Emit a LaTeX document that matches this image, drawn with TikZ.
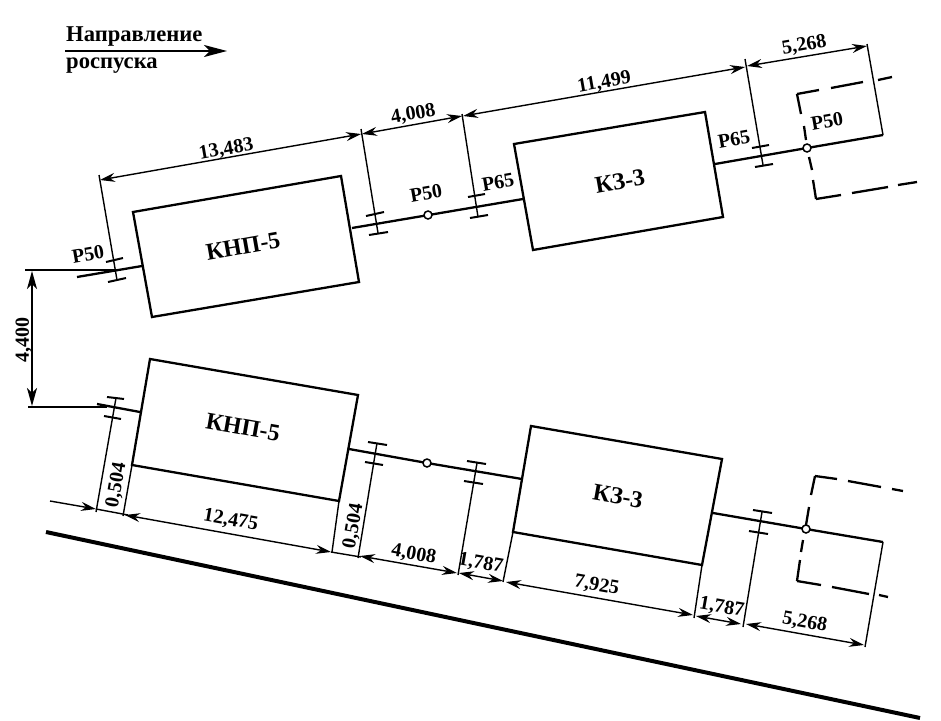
\documentclass[tikz,border=0pt]{standalone}
\usepackage{fontspec}
\setmainfont{Liberation Serif}
\usetikzlibrary{arrows.meta}
\tikzset{
  thin line/.style={line width=1.4pt},
  wide line/.style={line width=2.3pt},
  base line/.style={line width=4pt},
  tick line/.style={line width=2pt},
  dash part/.style={line width=2.3pt},
  dim head/.tip={Stealth[length=15pt,width=9pt,inset=5pt]},
  dim tip/.style={dim head-dim head, line width=1.4pt},
  dim end/.style={-dim head, line width=1.4pt},
  dim txt/.style={font=\bfseries\fontsize{20}{20}\selectfont, inner sep=0pt, text height=13.5pt, text depth=0pt},
  unit txt/.style={font=\bfseries\fontsize{24}{24}\selectfont, inner sep=0pt, text height=16pt, text depth=0pt},
  head txt/.style={font=\bfseries\fontsize{22.6}{23}\selectfont, inner sep=0pt, anchor=west},
  joint/.style={circle, draw, fill=white, line width=1.5pt, minimum size=8pt, inner sep=0pt},
}
\begin{document}
\begin{tikzpicture}[x=1pt,y=-1pt]
\useasboundingbox (0,0) rectangle (941,720);
\fill[white] (0,0) rectangle (941,720);

% heading
\node[head txt] (hA) at (66,37) {Направление};
\node[head txt] (hB) at (66,66) {роспуска};
\draw[-{Stealth[length=23pt,width=12pt,inset=6pt]}, line width=1.8pt] (65,51) -- (227,51);

% upper line: rails
\draw[wide line] (77,277) -- (142,266);
\draw[wide line] (352,228) -- (523,199);
\draw[wide line] (715,164) -- (807,148) -- (883,135);
\draw[thin line] (883,135) -- (867,44);

% upper boxes
\draw[wide line] (133,212) -- (341,176) -- (359,282) -- (152,317) -- cycle;
\draw[wide line] (514,144) -- (705,112) -- (723,217) -- (533,250) -- cycle;

% upper extension lines and ticks
\draw[thin line] (99,175) -- (117,280);
\draw[tick line] (106,262) -- (123,258);
\draw[tick line] (108,282) -- (126,278);
\draw[thin line] (361,129) -- (378,233);
\draw[tick line] (366,216) -- (384,212);
\draw[tick line] (369,235) -- (388,232);
\draw[thin line] (462,114) -- (478,217);
\draw[tick line] (468,197) -- (485,194);
\draw[tick line] (470,218) -- (488,215);
\draw[thin line] (745,59) -- (763,165);
\draw[tick line] (752,148) -- (769,145);
\draw[tick line] (755,167) -- (773,164);

% upper dimensions
\draw[dim tip] (100,180) -- (361,134);
\draw[dim tip] (362,134) -- (462,116);
\draw[dim tip] (463,116) -- (745,67);
\draw[dim tip] (747,66) -- (867,46);

% upper dashed outline
\draw[dash part] (797,94) -- (819,90);
\draw[dash part] (831,88) -- (863,82);
\draw[dash part] (878,80) -- (892,77);
\draw[dash part] (797,94) -- (801,114);
\draw[dash part] (804,126) -- (806,140);
\draw[dash part] (809,157) -- (812,170);
\draw[dash part] (813,180) -- (816,199);
\draw[dash part] (816,199) -- (841,195);
\draw[dash part] (852,193) -- (888,187);
\draw[dash part] (898,185) -- (917,182);

\node[joint] (j1) at (428,215) {};
\node[joint] (j2) at (807,148) {};

% spacing dimension 4,400
\draw[thin line] (25,270) -- (115,270);
\draw[thin line] (28,407) -- (107,407);
\draw[{Stealth[length=18pt,width=10pt,inset=5pt]}-{Stealth[length=18pt,width=10pt,inset=5pt]}, line width=1.4pt] (32,271) -- (32,406);

% lower rails
\draw[wide line] (97,404) -- (140,412);
\draw[wide line] (349,449) -- (427,463) -- (522,479);
\draw[wide line] (713,513) -- (806,529) -- (883,542);
\draw[thin line] (883,542) -- (865,647);

% lower boxes
\draw[wide line] (132,465) -- (150,359) -- (358,395) -- (339,501) -- cycle;
\draw[thin line] (132,465) -- (123,516);
\draw[thin line] (339,501) -- (332,552);
\draw[wide line] (513,532) -- (531,426) -- (722,459) -- (702,565) -- cycle;
\draw[thin line] (513,532) -- (503,582);
\draw[thin line] (702,565) -- (694,618);

% lower extension lines and ticks
\draw[thin line] (116,398) -- (96,512);
\draw[tick line] (107,397) -- (124,399);
\draw[tick line] (104,416) -- (121,419);
\draw[thin line] (377,443) -- (358,558);
\draw[tick line] (368,442) -- (387,445);
\draw[tick line] (365,462) -- (383,465);
\draw[thin line] (477,463) -- (458,575);
\draw[tick line] (467,461) -- (486,464);
\draw[tick line] (464,481) -- (483,484);
\draw[thin line] (762,512) -- (743,627);
\draw[tick line] (753,510) -- (772,513);
\draw[tick line] (749,531) -- (768,534);

% lower dimensions
\draw[dim end] (50,501) -- (96,509);
\draw[thin line] (96,509) -- (128,515);
\draw[dim tip] (125,515) -- (331,552);
\draw[thin line] (331,552) -- (361,557);
\draw[dim tip] (360,556) -- (457,573);
\draw[dim tip] (459,573) -- (503,581);
\draw[dim tip] (506,582) -- (693,615);
\draw[dim tip] (696,616) -- (741,624);
\draw[dim tip] (746,624) -- (864,645);

% lower dashed outline
\draw[dash part] (815,476) -- (837,479);
\draw[dash part] (848,481) -- (881,487);
\draw[dash part] (892,489) -- (903,491);
\draw[dash part] (815,476) -- (811,495);
\draw[dash part] (809,507) -- (806,525);
\draw[dash part] (803,540) -- (801,552);
\draw[dash part] (800,560) -- (797,581);
\draw[dash part] (797,581) -- (821,585);
\draw[dash part] (832,587) -- (869,594);
\draw[dash part] (879,595) -- (888,597);

\node[joint] (j3) at (427,463) {};
\node[joint] (j4) at (806,529) {};

% track
\draw[base line] (46,532) -- (920,718);

% labels: upper
\node[unit txt, rotate=10] (u1) at (243,246) {КНП-5};
\node[unit txt, rotate=10] (u2) at (620,181) {КЗ-3};
\node[dim txt, rotate=10] (t1) at (226,148) {13,483};
\node[dim txt, rotate=10] (t2) at (413,113) {4,008};
\node[dim txt, rotate=10] (t3) at (604,81) {11,499};
\node[dim txt, rotate=10] (t4) at (804,44) {5,268};
\node[dim txt, rotate=10] (r1) at (88,254) {Р50};
\node[dim txt, rotate=10] (r2) at (426,193) {Р50};
\node[dim txt, rotate=10] (r3) at (498,182) {Р65};
\node[dim txt, rotate=10] (r4) at (734,139) {Р65};
\node[dim txt, rotate=10] (r5) at (827,121) {Р50};
\node[dim txt, rotate=90] (s1) at (22,340) {4,400};

% labels: lower
\node[unit txt, rotate=-10] (u3) at (243,427) {КНП-5};
\node[unit txt, rotate=-10] (u4) at (618,496) {КЗ-3};
\node[dim txt, rotate=80] (b1) at (115,485) {0,504};
\node[dim txt, rotate=-10] (b2) at (231,519) {12,475};
\node[dim txt, rotate=80] (b3) at (352,526) {0,504};
\node[dim txt, rotate=-10] (b4) at (414,553) {4,008};
\node[dim txt, rotate=-10] (b5) at (481,562) {1,787};
\node[dim txt, rotate=-10] (b6) at (597,584) {7,925};
\node[dim txt, rotate=-10] (b7) at (722,606) {1,787};
\node[dim txt, rotate=-10] (b8) at (805,621) {5,268};
\end{tikzpicture}
\end{document}
